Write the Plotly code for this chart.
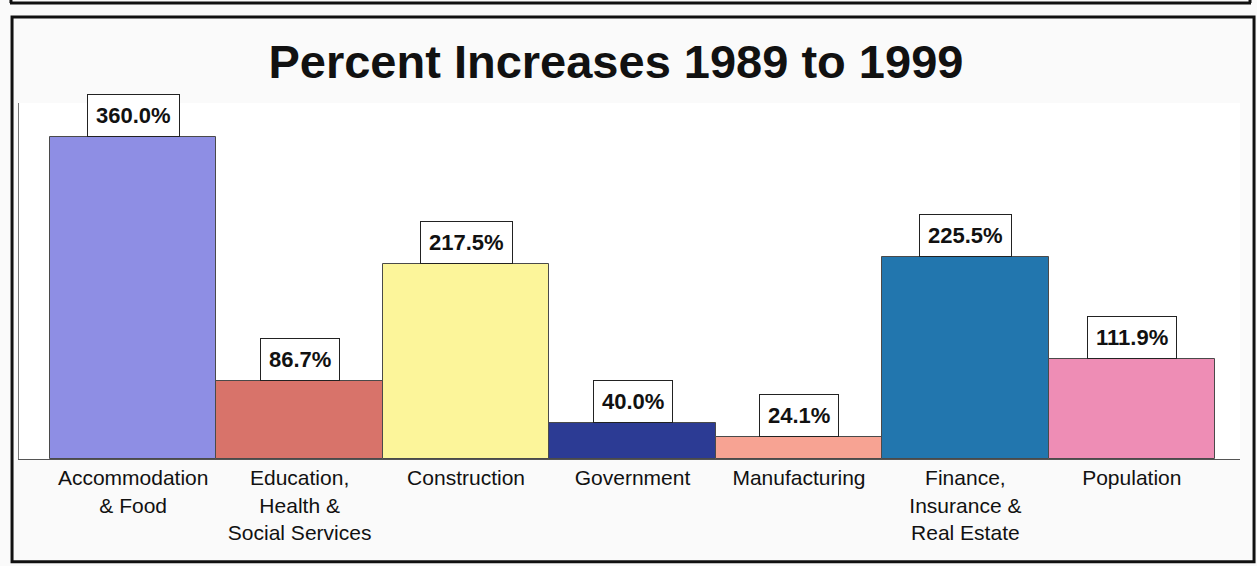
import plotly.graph_objects as go

# Percent change by sector, 1989 -> 1999
categories = [
    "Accommodation<br>& Food",
    "Education,<br>Health &<br>Social Services",
    "Construction",
    "Government",
    "Manufacturing",
    "Finance,<br>Insurance &<br>Real Estate",
    "Population",
]
pct_increase = [360.0, 86.7, 217.5, 40.0, 24.1, 225.5, 111.9]
bar_colors = ["#8e8ee4", "#d8736a", "#fcf59a", "#2c3b94",
              "#f7a393", "#2276ae", "#ee8db5"]

FONT = "Liberation Sans, Arial, sans-serif"
positions = list(range(len(categories)))

fig = go.Figure(
    go.Bar(
        x=positions,
        y=pct_increase,
        width=1.0,
        marker=dict(color=bar_colors, line=dict(color="#4a4a4a", width=1)),
        hoverinfo="skip",
    )
)

# value boxes sitting on top of each bar
for xpos, val in zip(positions, pct_increase):
    fig.add_annotation(
        x=xpos, y=val, xref="x", yref="y",
        text=f"<b>{val:.1f}%</b>",
        showarrow=False, yanchor="bottom",
        font=dict(family=FONT, size=22, color="#111111"),
        bgcolor="white", bordercolor="#222222", borderwidth=1, borderpad=8,
    )

# outer frames
frame = dict(type="line", xref="paper", yref="paper",
             line=dict(color="#111111", width=3))
fig.add_shape(type="rect", xref="paper", yref="paper",
              x0=-0.0057, x1=1.0115, y0=-0.2885, y1=1.2416,
              line=dict(color="#111111", width=3))
fig.add_shape(**frame, x0=-0.0074, x1=1.0090, y0=1.2808, y1=1.2808)
fig.add_shape(**frame, x0=-0.0066, x1=-0.0066, y0=1.2808, y1=1.30)
fig.add_shape(**frame, x0=1.0082, x1=1.0082, y0=1.2808, y1=1.30)

fig.update_layout(
    width=1257, height=566,
    margin=dict(l=19, r=17, t=103, b=107),
    paper_bgcolor="#fafafa",
    plot_bgcolor="#ffffff",
    showlegend=False,
    bargap=0,
    title=dict(
        text="<b>Percent Increases 1989 to 1999</b>",
        x=0.490, xanchor="center", xref="container",
        y=0.892, yanchor="middle", yref="container",
        font=dict(family=FONT, size=47, color="#111111"),
    ),
    xaxis=dict(
        tickmode="array", tickvals=positions, ticktext=categories,
        range=[-0.686, 6.65], showgrid=False, zeroline=False,
        showline=True, linecolor="#555555", linewidth=1, ticks="",
        tickfont=dict(family=FONT, size=21, color="#111111"),
        fixedrange=True,
    ),
    yaxis=dict(
        range=[0, 398], showgrid=False, zeroline=False,
        showticklabels=False, showline=True, linecolor="#777777",
        linewidth=1, ticks="", fixedrange=True,
    ),
)

fig.write_html("out.html")
